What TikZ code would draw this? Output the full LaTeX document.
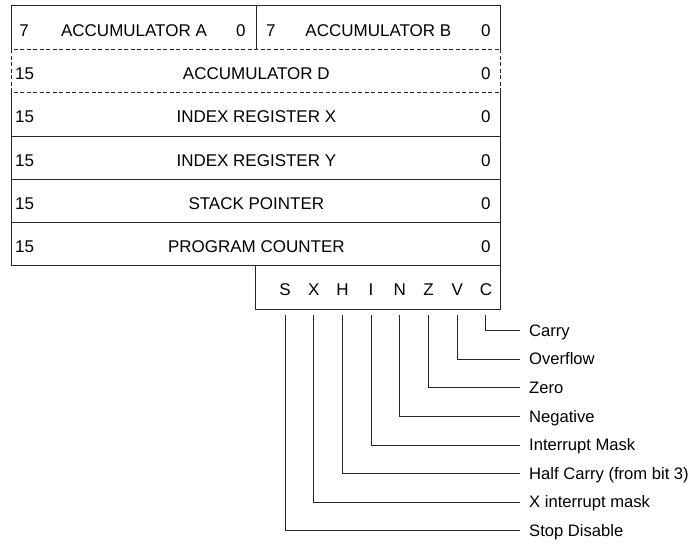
\documentclass[tikz,border=0pt]{standalone}
\usepackage{fontspec}
\setmainfont{Liberation Sans}
\usetikzlibrary{calc}

\tikzset{
  wire/.style={line width=0.9pt, draw=black!85, line cap=rect},
  dashwire/.style={line width=0.9pt, draw=black!85, dash pattern=on 4pt off 2.5pt},
  cell/.style={draw=none, inner sep=0pt, minimum height=43.25pt},
  txt/.style={inner sep=0pt, text height=12.2pt, text depth=0pt, font=\fontsize{17}{20}\selectfont},
  flagtxt/.style={txt},
  desc/.style={inner xsep=9pt, inner ysep=0pt, text height=11.2pt, text depth=0pt,
               anchor=west, font=\fontsize{16.6}{20}\selectfont},
}

\begin{document}
\begin{tikzpicture}[x=1pt,y=-1pt]
\useasboundingbox (0,0) rectangle (696,544);

% register cells (geometry only)
\node[cell, minimum width=244pt]   (accA) at (134,27.625) {};
\node[cell, minimum width=244.7pt] (accB) at (378.35,27.625) {};
\node[cell, minimum width=488.7pt] (accD) at (256.35,70.875) {};
\node[cell, minimum width=488.7pt] (idxX) at (256.35,114.125) {};
\node[cell, minimum width=488.7pt] (idxY) at (256.35,157.375) {};
\node[cell, minimum width=488.7pt] (sp)   at (256.35,200.625) {};
\node[cell, minimum width=488.7pt] (pc)   at (256.35,243.875) {};
\node[cell, minimum width=244.7pt, minimum height=43.5pt] (ccr) at (378.35,287.25) {};

% frames
\draw[wire] (accA.south west) |- (accB.north east) -- (accB.south east);
\draw[wire] (accA.north east) -- (accA.south east);
\draw[dashwire] (accD.north west) rectangle (accD.south east);
\draw[wire] (idxX.north west) |- (pc.south east);
\draw[wire] (idxX.north east) -- (ccr.south east) -| (ccr.north west);
\draw[wire] (idxX.south west) -- (idxX.south east);
\draw[wire] (idxY.south west) -- (idxY.south east);
\draw[wire] (sp.south west) -- (sp.south east);

% accumulators A and B
\node[txt, anchor=west] (aHi) at (19.2,30.1) {7};
\node[txt] (aName) at (134,30.1) {ACCUMULATOR A};
\node[txt, anchor=east] (aLo) at (245.7,30.1) {0};
\node[txt, anchor=west] (bHi) at (265.9,30.1) {7};
\node[txt] (bName) at (378.35,30.1) {ACCUMULATOR B};
\node[txt, anchor=east] (bLo) at (490.7,30.1) {0};

% 16-bit registers
\foreach \nm/\yc/\label in {dT/72.9/ACCUMULATOR D, xT/116.6/INDEX REGISTER X,
    yT/159.9/INDEX REGISTER Y, sT/203.1/STACK POINTER, pT/246.4/PROGRAM COUNTER}{
  \node[txt, anchor=west] (\nm Hi) at (14.9,\yc) {15};
  \node[txt] (\nm Name) at (256.35,\yc) {\label};
  \node[txt, anchor=east] (\nm Lo) at (490.7,\yc) {0};
}

% condition code register bits
\coordinate (tapTop) at (0,315);
\foreach \b [count=\k from 0] in {S,X,H,I,N,Z,V,C}{
  \node[flagtxt] (f\b) at ({285+28.7*\k},289.6) {\b};
}

% bit descriptions
\foreach \b/\d [count=\j from 0] in {C/Carry, V/Overflow, Z/Zero, N/Negative,
    I/Interrupt Mask, H/Half Carry (from bit 3), X/X interrupt mask, S/Stop Disable}{
  \node[desc] (d\b) at (520,{330.7+28.57*\j}) {\d};
  \draw[wire, line cap=butt] (f\b |- tapTop) |- (d\b.west);
}
\end{tikzpicture}
\end{document}
